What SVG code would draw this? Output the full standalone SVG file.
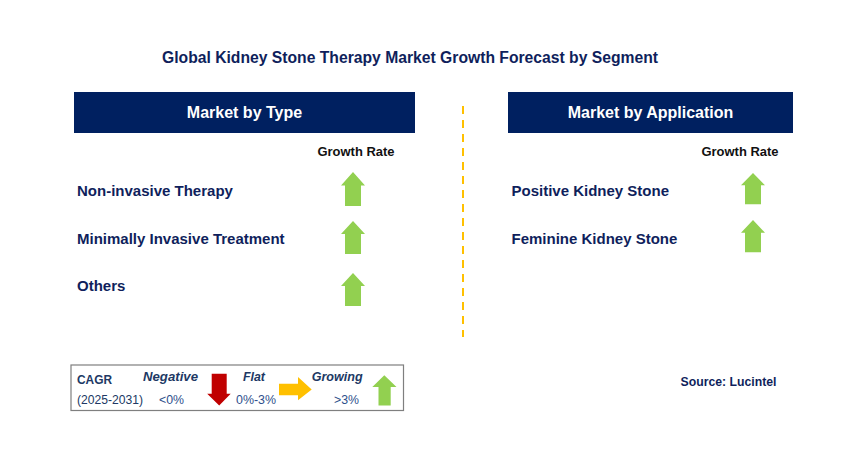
<svg xmlns="http://www.w3.org/2000/svg" width="857" height="465" viewBox="0 0 857 465">
<style>
.t{font-family:"Liberation Sans",Arial,sans-serif;font-weight:bold;fill:#0f1f5c}
.h{font-family:"Liberation Sans",Arial,sans-serif;font-weight:bold;fill:#ffffff;font-size:16px;text-anchor:middle}
.g{font-family:"Liberation Sans",Arial,sans-serif;font-weight:bold;fill:#111111;font-size:12.5px}
.item{font-size:15px}
.lg{font-family:"Liberation Sans",Arial,sans-serif;fill:#203864;font-size:12.5px}
.lgb{font-weight:bold}
.lgi{font-weight:bold;font-style:italic}
.num{fill:#2e4f8c}
.up{fill:#92d050}
</style>
<defs>
<path id="upArrow" d="M0,0 L12,13 L8,13 L8,33 L-8,33 L-8,13 L-12,13 Z"/>
</defs>
<rect width="857" height="465" fill="#ffffff"/>
<text class="t" x="410" y="63" text-anchor="middle" font-size="16" textLength="496" lengthAdjust="spacingAndGlyphs">Global Kidney Stone Therapy Market Growth Forecast by Segment</text>

<g id="connectors">
<line x1="463" y1="106" x2="463" y2="337" stroke="#ffc000" stroke-width="2" stroke-dasharray="8 6"/>
</g>

<g id="header-type">
<rect x="74" y="92" width="341" height="41" fill="#002060"/>
<text class="h" x="244.5" y="118">Market by Type</text>
</g>
<g id="header-application">
<rect x="508" y="92" width="285" height="41" fill="#002060"/>
<text class="h" x="650.5" y="118">Market by Application</text>
</g>

<text class="g" x="317.5" y="156" textLength="77" lengthAdjust="spacingAndGlyphs">Growth Rate</text>
<text class="g" x="701.5" y="156" textLength="77" lengthAdjust="spacingAndGlyphs">Growth Rate</text>

<g id="type-noninvasive">
<text class="t item" x="77" y="196">Non-invasive Therapy</text>
<use href="#upArrow" class="up" transform="translate(353,172) scale(1,1.03)"/>
</g>
<g id="type-minimally">
<text class="t item" x="77" y="244">Minimally Invasive Treatment</text>
<use href="#upArrow" class="up" transform="translate(353,221)"/>
</g>
<g id="type-others">
<text class="t item" x="77" y="291">Others</text>
<use href="#upArrow" class="up" transform="translate(353,273)"/>
</g>
<g id="app-positive">
<text class="t item" x="511.5" y="196">Positive Kidney Stone</text>
<use href="#upArrow" class="up" transform="translate(753,173) scale(1,0.95)"/>
</g>
<g id="app-feminine">
<text class="t item" x="511.5" y="244">Feminine Kidney Stone</text>
<use href="#upArrow" class="up" transform="translate(753,220) scale(1,0.98)"/>
</g>

<g id="legend">
<rect x="71" y="365" width="332.5" height="45.5" fill="#ffffff" stroke="#7f7f7f" stroke-width="1.2"/>
<text class="lg lgb" x="77" y="384" textLength="35" lengthAdjust="spacingAndGlyphs">CAGR</text>
<text class="lg" x="77" y="403.5" textLength="66" lengthAdjust="spacingAndGlyphs">(2025-2031)</text>
<text class="lg lgi" x="143" y="381" textLength="55" lengthAdjust="spacingAndGlyphs">Negative</text>
<text class="lg num" x="159" y="403.5" textLength="25" lengthAdjust="spacingAndGlyphs">&lt;0%</text>
<path d="M211.7,373.7 L226.7,373.7 L226.7,393.7 L230.7,393.7 L219.2,405.5 L207.2,393.7 L211.7,393.7 Z" fill="#c00000"/>
<text class="lg lgi" x="243" y="381" textLength="22" lengthAdjust="spacingAndGlyphs">Flat</text>
<text class="lg num" x="236" y="403.5" textLength="40" lengthAdjust="spacingAndGlyphs">0%-3%</text>
<path d="M279,383.7 L298,383.7 L298,377 L311.7,389.5 L298,400.3 L298,395.3 L279,395.3 Z" fill="#ffc000"/>
<text class="lg lgi" x="311.7" y="381" textLength="51" lengthAdjust="spacingAndGlyphs">Growing</text>
<text class="lg num" x="334" y="403.5" textLength="25" lengthAdjust="spacingAndGlyphs">&gt;3%</text>
<path d="M384.3,375.3 L396.5,387 L390.7,387 L390.7,405.5 L378.5,405.5 L378.5,387 L372.3,387 Z" class="up"/>
</g>

<text class="t" x="680.5" y="385.5" font-size="12.5" textLength="96" lengthAdjust="spacingAndGlyphs">Source: Lucintel</text>
</svg>
